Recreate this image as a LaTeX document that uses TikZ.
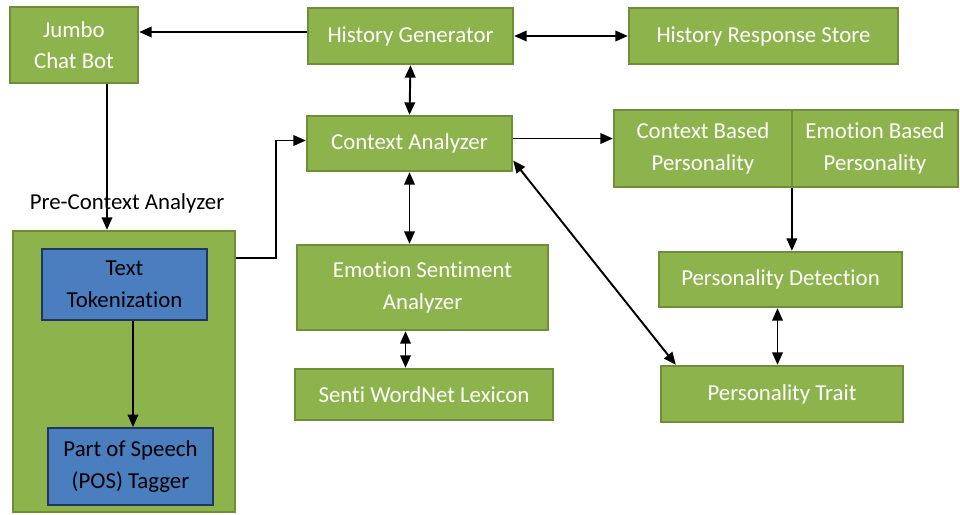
\documentclass[tikz,border=0pt]{standalone}
\usepackage{fontspec}
\setmainfont{Carlito}[Ligatures=NoCommon]
\usetikzlibrary{
    arrows.meta,
    calc,
    positioning,
}
\definecolor{boxgreen}{HTML}{8DB44C}
\definecolor{boxgreenline}{HTML}{6E8F36}
\definecolor{boxblue}{HTML}{4A7EBF}
\definecolor{boxblueline}{HTML}{1F3660}
\tikzstyle{gbox}=[draw=boxgreenline,fill=boxgreen,line width=1.3pt,text=white,align=center,inner sep=0pt,font=\fontsize{13}{18}\selectfont]
\tikzstyle{bbox}=[draw=boxblueline,fill=boxblue,line width=1pt,text=black,align=center,inner sep=0pt,font=\fontsize{13}{18}\selectfont]
\tikzstyle{arr}=[line width=1.1pt,-{Triangle[length=2.5mm,width=2.1mm]}]
\tikzstyle{darr}=[line width=1.1pt,{Triangle[length=2.5mm,width=2.1mm]}-{Triangle[length=2.5mm,width=2.1mm]}]

\begin{document}
\begin{tikzpicture}[x=0.02cm,y=-0.02cm]
    \useasboundingbox (0,0) rectangle (960,514);
    % top row
    \node[gbox,minimum width=2.56cm,minimum height=1.52cm] (jumbo) at (74,45) {Jumbo\\Chat Bot};
    \node[gbox,minimum width=4.1cm,minimum height=1.12cm] (hg) at (410.5,36) {History Generator};
    \node[gbox,minimum width=5.38cm,minimum height=1.12cm] (hrs) at (763.5,36) {History Response Store};
    % middle
    \node[gbox,minimum width=4.1cm,minimum height=1.1cm] (ca) at (409.5,143.5) {Context Analyzer};
    \node[gbox,minimum width=3.56cm,minimum height=1.54cm] (cbp) at (703,148.5) {Context Based\\Personality};
    \node[gbox,minimum width=3.32cm,minimum height=1.54cm] (ebp) at (875,148.5) {Emotion Based\\Personality};
    \node[gbox,minimum width=5.02cm,minimum height=1.7cm] (esa) at (422.5,287.5) {Emotion Sentiment\\Analyzer};
    \node[gbox,minimum width=5.16cm,minimum height=1.02cm] (senti) at (424,394.5) {Senti WordNet Lexicon};
    \node[gbox,minimum width=4.86cm,minimum height=1.1cm] (pd) at (780.5,279.5) {Personality Detection};
    \node[gbox,minimum width=4.84cm,minimum height=1.12cm] (pt) at (782,394) {Personality Trait};
    % pre-context analyzer block
    \node[font=\fontsize{13}{18}\selectfont] (prelabel) at (127,203) {Pre-Context Analyzer};
    \node[gbox,minimum width=4.44cm,minimum height=5.62cm] (pre) at (124,371.5) {};
    \node[bbox,minimum width=3.3cm,minimum height=1.42cm] (tt) at (124.5,284.5) {Text\\Tokenization};
    \node[bbox,minimum width=3.3cm,minimum height=1.54cm] (pos) at (130.5,466.5) {Part of Speech\\(POS) Tagger};
    % connectors
    \draw[arr] ([yshift=0.08cm]hg.west) -- ([yshift=0.08cm]hg.west -| jumbo.east);
    \draw[darr] (hg.east) -- (hrs.west);
    \draw[darr] (hg.south) -- (ca.north);
    \draw[arr] ([xshift=0.66cm]jumbo.south) -- ([xshift=0.66cm]jumbo.south |- pre.north);
    \draw[arr] ([yshift=-0.56cm]pre.north east) -- ++(40,0) |- ([yshift=0.06cm]ca.west);
    \draw[arr] ([yshift=0.1cm]ca.east) -- ([yshift=0.1cm]ca.east -| cbp.west);
    \draw[darr] (ca.south) -- (ca.south |- esa.north);
    \draw[darr] ([yshift=-0.34cm]ca.east) -- ([xshift=0.32cm]pt.north west);
    \draw[arr] ([xshift=0.02cm]ebp.south west) -- ([xshift=0.02cm]ebp.south west |- pd.north);
    \draw[darr] ([xshift=-0.06cm]pd.south) -- ([xshift=-0.06cm]pd.south |- pt.north);
    \draw[darr] ([xshift=-0.34cm]esa.south) -- ([xshift=-0.34cm]esa.south |- senti.north);
    \draw[arr] ([xshift=0.17cm]tt.south) -- ([xshift=0.17cm]tt.south |- pos.north);
\end{tikzpicture}
\end{document}
